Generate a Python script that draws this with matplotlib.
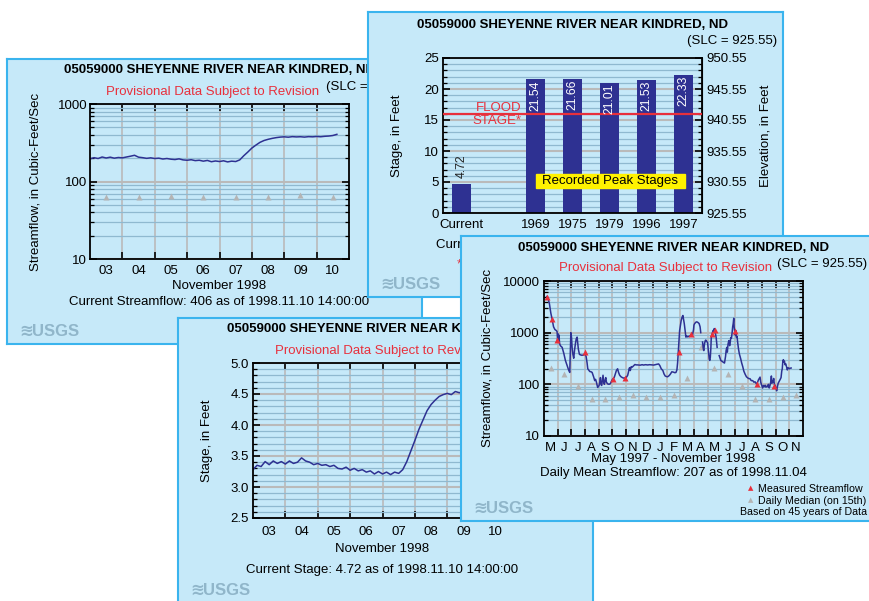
import numpy as np
import matplotlib.pyplot as plt
from matplotlib.ticker import NullFormatter
from matplotlib.patches import Rectangle

# ---------------- data ----------------
SLC = 925.55

# gage readings, November 1998 (day of month, 3-hour steps)
nov_days = [3.0, 3.125, 3.25, 3.375, 3.5, 3.625, 3.75, 3.875,
            4.0, 4.125, 4.25, 4.375, 4.5, 4.625, 4.75, 4.875,
            5.0, 5.125, 5.25, 5.375, 5.5, 5.625, 5.75, 5.875,
            6.0, 6.125, 6.25, 6.375, 6.5, 6.625, 6.75, 6.875,
            7.0, 7.125, 7.25, 7.375, 7.5, 7.625, 7.75, 7.875,
            8.0, 8.125, 8.25, 8.375, 8.5, 8.625, 8.75, 8.875,
            9.0, 9.125, 9.25, 9.375, 9.5, 9.625, 9.75, 9.875,
            10.0, 10.125, 10.25, 10.375, 10.5, 10.625]
nov_flow = [196, 203, 198, 207, 201, 206, 200, 204, 202, 207,
            212, 218, 206, 203, 199, 202, 198, 200, 195, 198,
            194, 192, 196, 190, 188, 191, 186, 188, 183, 187,
            180, 184, 181, 185, 179, 183, 181, 190, 215, 240,
            270, 295, 320, 338, 350, 360, 368, 374, 377, 373,
            379, 376, 378, 374, 379, 377, 381, 378, 383, 386,
            392, 406]
nov_stage = [3.28, 3.35, 3.33, 3.41, 3.36, 3.42, 3.38, 3.41, 3.37, 3.42,
             3.38, 3.40, 3.47, 3.42, 3.40, 3.36, 3.38, 3.35, 3.36, 3.33,
             3.35, 3.30, 3.29, 3.32, 3.27, 3.30, 3.26, 3.28, 3.24, 3.26,
             3.21, 3.25, 3.21, 3.24, 3.20, 3.24, 3.22, 3.28, 3.41, 3.58,
             3.75, 3.93, 4.08, 4.23, 4.33, 4.40, 4.46, 4.49, 4.51, 4.49,
             4.54, 4.52, 4.55, 4.57, 4.56, 4.59, 4.61, 4.62, 4.64, 4.66,
             4.69, 4.72]
day_labels = ['03', '04', '05', '06', '07', '08', '09', '10']
median_days = [3.5, 4.5, 5.5, 6.5, 7.5, 8.5, 9.5, 10.5]
median_nov = [64, 64, 65, 64, 63, 64, 67, 64]

# peak stages
peak_labels = ['Current', '1969', '1975', '1979', '1996', '1997']
peak_stage = [4.72, 21.54, 21.66, 21.01, 21.53, 22.33]
flood_stage = 16

# daily mean streamflow, May 1997 - Nov 1998 (months after 1 May 1997)
d_month = [0.20, 0.30, 0.40, 0.50, 0.60, 0.70, 0.80, 0.90, 0.96, 1.00,
           1.03, 1.07, 1.10, 1.14, 1.20, 1.33, 1.45, 1.57, 1.70, 1.82,
           1.89, 1.93, 1.97, 2.02, 2.06, 2.12, 2.18, 2.25, 2.30, 2.36,
           2.43, 2.48, 2.52, 2.60, 2.70, 2.79, 2.90, 3.00, 3.09, 3.16,
           3.21, 3.30, 3.36, 3.45, 3.53, 3.60, 3.65, 3.72, 3.78, 3.84,
           3.88, 3.94, 4.00, 4.04, 4.09, 4.14, 4.18, 4.23, 4.28, 4.33,
           4.38, 4.43, 4.48, 4.53, 4.58, 4.67, 4.77, 4.87, 4.95, 5.02,
           5.10, 5.16, 5.24, 5.31, 5.40, 5.47, 5.55, 5.65, 5.75, 5.84,
           5.92, 5.99, 6.07, 6.14, 6.20, 6.24, 6.28, 6.33, 6.40, 6.47,
           6.55, 6.62, 6.67, 6.75, 6.82, 6.95, 7.06, 7.20, 7.30, 7.45,
           7.60, 7.75, 7.90, 8.05, 8.20, 8.30, 8.41, 8.50, 8.60, 8.72,
           8.80, 8.89, 8.97, 9.06, 9.15, 9.25, 9.38, 9.50, 9.60, 9.68,
           9.75, 9.80, 9.85, 9.90, 9.95, 9.99, 10.06, 10.13, 10.19, 10.24,
           10.29, 10.35, 10.41, 10.47, 10.53, 10.59, 10.65, 10.71, 10.77, 10.83,
           10.90, 10.97, 11.00, 11.05, 11.15, 11.21, 11.30, 11.38, 11.45, 11.50,
           11.56,
           11.63, 11.68, 11.72, 11.77, 11.83, 11.87, 11.93, 12.00, 12.04, 12.07,
           12.12, 12.16, 12.20, 12.24, 12.27, 12.31, 12.36, 12.40, 12.45, 12.49,
           12.53, 12.58, 12.63, 12.66, 12.70,
           12.78,
           12.85, 12.92, 12.97, 13.05, 13.12, 13.20, 13.24, 13.28, 13.32, 13.36,
           13.41, 13.45, 13.50, 13.56, 13.62, 13.66, 13.70, 13.75, 13.80, 13.84,
           13.88, 13.92, 13.95, 13.99, 14.03, 14.07, 14.11, 14.16, 14.21, 14.27,
           14.33, 14.43, 14.50, 14.58, 14.66, 14.75, 14.85, 14.92, 15.00, 15.12,
           15.20, 15.31, 15.40, 15.48, 15.55, 15.61, 15.67, 15.73, 15.79, 15.85,
           15.90, 15.95, 16.00, 16.04, 16.10, 16.16, 16.22, 16.28, 16.34, 16.40,
           16.46, 16.52, 16.58, 16.63, 16.68, 16.72, 16.76, 16.80, 16.85, 16.90,
           16.96, 17.00, 17.07, 17.12, 17.18, 17.26, 17.33, 17.39, 17.44, 17.48,
           17.52, 17.56, 17.60, 17.64, 17.68, 17.73, 17.79, 17.85, 17.90, 17.96,
           18.00, 18.05, 18.13]
d_flow = [5000, 4600, 3600, 2400, 1800, 1300, 1150, 1100, 1050, 700,
          950, 780, 900, 620, 560, 520, 400, 290, 230, 185,
          170, 400, 1000, 800, 520, 380, 320, 480, 600, 750,
          820, 620, 480, 380, 370, 365, 370, 390, 345, 260,
          200, 185, 177, 175, 170, 150, 137, 118, 125, 112,
          100, 87, 92, 95, 110, 135, 100, 95, 120, 150,
          110, 100, 120, 135, 110, 102, 100, 103, 115, 125,
          130, 138, 160, 185, 200, 170, 150, 140, 135, 132,
          133, 133, 140, 150, 175, 200, 210, 185, 220, 215,
          225, 235, 242, 238, 238, 236, 235, 240, 236, 240,
          237, 240, 238, 236, 242, 245, 248, 230, 200, 185,
          160, 145, 142, 140, 145, 155, 175, 172, 168, 170,
          190, 260, 420, 700, 1100, 1300, 1700, 2000, 2150, 1800,
          1500, 1100, 820, 860, 830, 850, 840, 870, 900, 880,
          920, 1150, 1400, 1500, 1600, 1620, 1570, 1500, 1300, 1000,
          np.nan,
          660, 500, 450, 600, 700, 720, 680, 640, 500, 415,
          310, 290, 330, 500, 800, 900, 1000, 1100, 1050, 1200,
          1100, 950, 800, 650, 520,
          np.nan,
          360, 320, 290, 280, 270, 262, 258, 300, 350, 450,
          520, 420, 600, 700, 560, 650, 800, 780, 1000, 1300,
          1500, 1900, 1300, 1050, 900, 1100, 820, 850, 640, 480,
          390, 312, 260, 220, 180, 158, 140, 135, 130, 128,
          118, 118, 110, 112, 105, 100, 110, 122, 130, 138,
          110, 100, 92, 85, 95, 90, 96, 88, 92, 90,
          100, 85, 95, 110, 145, 105, 115, 110, 130, 100,
          95, 85, 75, 90, 105, 115, 125, 135, 180, 200,
          280, 300, 270, 280, 240, 250, 220, 190, 210, 205,
          200, 205, 207]
meas_month = [0.23, 0.62, 0.96, 2.99, 5.04, 5.97, 9.87, 10.82, 12.31, 12.56, 14.04, 15.65, 16.90]
meas_flow = [4900, 1850, 710, 415, 127, 133, 425, 955, 955, 1110, 1060, 102, 94]
med_month = [0.5, 1.5, 2.5, 3.5, 4.5, 5.5, 6.5, 7.5, 8.5, 9.5, 10.5, 11.5,
             12.5, 13.5, 14.5, 15.5, 16.5, 17.5, 18.5]
med_flow = [205, 158, 91, 52, 53, 57, 62, 57, 56, 62, 135, 525,
            208, 158, 93, 52, 53, 56, 62]
month_letters = ['M', 'J', 'J', 'A', 'S', 'O', 'N', 'D', 'J', 'F',
                 'M', 'A', 'M', 'J', 'J', 'A', 'S', 'O', 'N']

TITLE = '05059000 SHEYENNE RIVER NEAR KINDRED, ND'
PROV = 'Provisional Data Subject to Revision'

# ---------------- style ----------------
W, H = 869, 601
BG = '#c6e9f9'
EDGE = '#3ab4ee'
NAVY = '#2e3192'
RED = '#e8303c'
GRID_GRAY = '#bababa'
GRID_BLUE = '#8fb9d0'
MEDIAN = '#b4b4b4'
LOGO = '#90b6ca'
FS = 9.5

plt.rcParams['font.family'] = ['Liberation Sans', 'DejaVu Sans']
plt.rcParams['font.size'] = FS

fig = plt.figure(figsize=(W / 100, H / 100), dpi=100)


def frac(x0, y0, w, h):
    return [x0 / W, 1 - (y0 + h) / H, w / W, h / H]


def make_panel(px, py, ox, oy, z):
    bg = fig.add_axes(frac(px, py, 415, 285), zorder=z)
    bg.set_xlim(px, px + 415)
    bg.set_ylim(py + 285, py)
    bg.set_facecolor(BG)
    bg.set_xticks([])
    bg.set_yticks([])
    for s in bg.spines.values():
        s.set_color(EDGE)
        s.set_linewidth(1.5)
    bg.text(px + 12, py + 272, '≋', family=['DejaVu Sans'], weight='bold',
            size=12, color=LOGO, ha='left', va='center')
    bg.text(px + 25, py + 272.5, 'USGS', weight='bold', size=12, color=LOGO,
            ha='left', va='center')

    ax = fig.add_axes(frac(px + ox, py + oy, 259, 155), zorder=z + 1)
    ax.set_facecolor(BG)
    ax.set_axisbelow(True)
    for s in ax.spines.values():
        s.set_linewidth(1.3)
    ax.tick_params(which='both', direction='in', top=True, right=True,
                   labelsize=FS, pad=3)
    ax.tick_params(which='major', length=5, width=1.2)
    ax.tick_params(which='minor', length=3, width=0.9)
    return bg, ax


def day_axis(ax, pad):
    ax.set_xlim(3, 11)
    ax.set_xticks(range(4, 11))
    ax.set_xticklabels([])
    ax.set_xticks(median_days, minor=True)
    ax.set_xticklabels(day_labels, minor=True)
    ax.tick_params(axis='x', which='minor', length=0, pad=pad)
    ax.xaxis.grid(True, which='major', color=GRID_GRAY, lw=1.2)


def log_axis(ax, top_exp):
    ax.set_yscale('log')
    majors = [10 ** e for e in range(1, top_exp + 1)]
    ax.set_ylim(majors[0], majors[-1])
    ax.set_yticks(majors)
    ax.set_yticklabels([str(m) for m in majors])
    ax.set_yticks([m * k for m in majors[:-1] for k in range(2, 10)], minor=True)
    ax.yaxis.set_minor_formatter(NullFormatter())
    ax.yaxis.grid(True, which='minor', color=GRID_BLUE, lw=0.9)
    ax.yaxis.grid(True, which='major', color=GRID_GRAY, lw=1.5)


# ---------------- panel A : streamflow, last week ----------------
bg, ax = make_panel(7, 59, 83, 45, 10)
bg.text(219.5, 70, TITLE, weight='bold', ha='center', va='center')
bg.text(213, 92, PROV, color=RED, ha='center', va='center')
bg.text(416, 87, f'(SLC = {SLC:.2f})', ha='right', va='center')
bg.text(36, 181.5, 'Streamflow, in Cubic-Feet/Sec', rotation=90, ha='center', va='center')
bg.text(219.5, 286, 'November 1998', ha='center', va='center')
bg.text(219.5, 302, 'Current Streamflow: 406 as of 1998.11.10 14:00:00', ha='center', va='center')
log_axis(ax, 3)
day_axis(ax, 4.5)
ax.tick_params(axis='y', which='both', pad=2)
ax.plot(nov_days, nov_flow, color=NAVY, lw=1.1)
ax.plot(median_days, median_nov, '^', color=MEDIAN, ms=4.5, mec='none')

# ---------------- panel B : peak stages ----------------
bg, ax = make_panel(368, 12, 75, 46, 20)
bg.text(572.5, 25, TITLE, weight='bold', ha='center', va='center')
bg.text(777, 41, f'(SLC = {SLC:.2f})', ha='right', va='center')
bg.text(397, 135.5, 'Stage, in Feet', rotation=90, ha='center', va='center')
bg.text(765, 135.5, 'Elevation, in Feet', rotation=90, ha='center', va='center')
bg.text(572.5, 245, 'Current Stage: 4.72 as of 1998.11.10 14:00:00', ha='center', va='center')
bg.text(572.5, 265, '* Provided by National Weather Service', color=RED, ha='center', va='center')
bar_pos = [0, 2, 3, 4, 5, 6]
ax.bar(bar_pos, peak_stage, width=0.52, color=NAVY, zorder=2)
ax.set_xlim(-0.5, 6.5)
ax.set_ylim(0, 25)
ax.set_xticks(bar_pos)
ax.set_xticklabels(peak_labels)
ax.tick_params(axis='x', which='both', length=0, pad=4.5)
ax.set_yticks(range(0, 26, 5))
ax.set_yticks(range(0, 26), minor=True)
ax.yaxis.grid(True, which='minor', color=GRID_BLUE, lw=0.9)
ax.yaxis.grid(True, which='major', color=GRID_GRAY, lw=1.5)
sec = ax.secondary_yaxis('right', functions=(lambda s: s + SLC, lambda e: e - SLC))
sec.set_yticks([SLC + s for s in range(0, 26, 5)])
sec.set_yticklabels([f'{SLC + s:.2f}' for s in range(0, 26, 5)])
sec.tick_params(length=0, pad=3, labelsize=FS)
for p, v in zip(bar_pos, peak_stage):
    if p == 0:
        ax.text(p, v + 1.0, f'{v:.2f}', rotation=90, ha='center', va='bottom',
                color='#222222', size=8.8)
    else:
        ax.text(p, v - 0.15, f'{v:.2f}', rotation=90, ha='center', va='top',
                color='white', size=8.8, zorder=4)
ax.axhline(flood_stage, color=RED, lw=1.6, zorder=3)
ax.text(1.61, 16.9, 'FLOOD', color=RED, ha='right', va='center')
ax.text(1.61, 14.8, 'STAGE*', color=RED, ha='right', va='center')
ax.add_patch(Rectangle((2.01, 4.03), 4.03, 2.26, color='#fff200', zorder=5))
ax.text(4.02, 5.16, 'Recorded Peak Stages', ha='center', va='center', zorder=6)

# ---------------- panel C : stage, last week ----------------
bg, ax = make_panel(178, 318, 75, 45, 30)
bg.text(382.5, 329, TITLE, weight='bold', ha='center', va='center')
bg.text(382, 351, PROV, color=RED, ha='center', va='center')
bg.text(382.5, 549, 'November 1998', ha='center', va='center')
bg.text(382.5, 570, 'Current Stage: 4.72 as of 1998.11.10 14:00:00', ha='center', va='center')
bg.text(207, 440.5, 'Stage, in Feet', rotation=90, ha='center', va='center')
ax.set_ylim(2.5, 5.0)
ax.set_yticks([2.5, 3.0, 3.5, 4.0, 4.5, 5.0])
ax.set_yticklabels(['2.5', '3.0', '3.5', '4.0', '4.5', '5.0'])
ax.set_yticks([2.5 + 0.1 * k for k in range(26)], minor=True)
ax.yaxis.grid(True, which='minor', color=GRID_BLUE, lw=0.9)
ax.yaxis.grid(True, which='major', color=GRID_GRAY, lw=1.5)
day_axis(ax, 5.5)
sec = ax.secondary_yaxis('right', functions=(lambda s: s + SLC, lambda e: e - SLC))
sec.set_yticks([SLC + s for s in [2.5, 3.0, 3.5, 4.0, 4.5, 5.0]])
sec.set_yticklabels([f'{SLC + s:.2f}' for s in [2.5, 3.0, 3.5, 4.0, 4.5, 5.0]])
sec.tick_params(length=0, pad=3, labelsize=FS)
ax.plot(nov_days, nov_stage, color=NAVY, lw=1.1)

# ---------------- panel D : daily mean streamflow ----------------
bg, ax = make_panel(461, 236, 83, 45, 40)
bg.text(673.5, 248, TITLE, weight='bold', ha='center', va='center')
bg.text(666, 268, PROV, color=RED, ha='center', va='center')
bg.text(867, 264, f'(SLC = {SLC:.2f})', ha='right', va='center')
bg.text(488, 358, 'Streamflow, in Cubic-Feet/Sec', rotation=90, ha='center', va='center')
bg.text(673.5, 459, 'May 1997 - November 1998', ha='center', va='center')
bg.text(673, 473, 'Daily Mean Streamflow: 207 as of 1998.11.04', ha='center', va='center')
bg.text(750.5, 488.5, '▲', color=RED, size=5, family=['DejaVu Sans'], ha='center', va='center')
bg.text(757.5, 488.5, 'Measured Streamflow', size=7.7, ha='left', va='center')
bg.text(750.5, 500.5, '▲', color=MEDIAN, size=5, family=['DejaVu Sans'], ha='center', va='center')
bg.text(757.5, 500.5, 'Daily Median (on 15th)', size=7.7, ha='left', va='center')
bg.text(867, 512, 'Based on 45 years of Data', size=7.7, ha='right', va='center')
log_axis(ax, 4)
ax.set_xlim(0, 19)
ax.set_xticks(range(1, 19))
ax.set_xticklabels([])
ax.set_xticks(med_month, minor=True)
ax.set_xticklabels(month_letters, minor=True)
ax.tick_params(axis='x', which='minor', length=0, pad=4.5)
ax.xaxis.grid(True, which='major', color=GRID_GRAY, lw=1.2)
ax.plot(med_month, med_flow, '^', color=MEDIAN, ms=4.5, mec='none', zorder=2)
ax.plot(d_month, d_flow, color=NAVY, lw=1.1, zorder=3)
ax.plot(meas_month, meas_flow, '^', color=RED, ms=4.5, mec='none', zorder=4)

fig.savefig('out.png', dpi=100, facecolor='white')
